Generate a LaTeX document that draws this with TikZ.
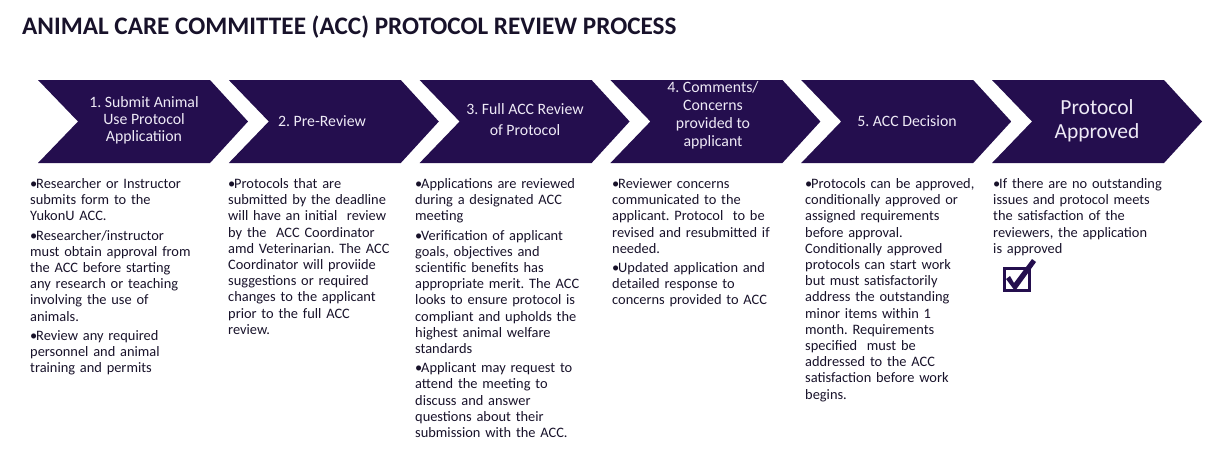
\documentclass[tikz,border=0pt]{standalone}
\usepackage{fontspec}
\setmainfont{Carlito}
\definecolor{chev}{RGB}{36,14,78}
\definecolor{bodytxt}{RGB}{24,18,42}
\definecolor{chevtxt}{RGB}{238,234,246}
\newcommand{\bfirst}{\noindent\hangindent=6pt\hangafter=1\makebox[6pt][l]{•}}
\newcommand{\bnext}{\par\vspace{3pt}\noindent\hangindent=6pt\hangafter=1\makebox[6pt][l]{•}}
\begin{document}
\frenchspacing
\begin{tikzpicture}[x=1pt,y=-1pt,
  chevshape/.style={fill=chev},
  chevlabel/.style={text=chevtxt,align=center,inner sep=0pt,font=\fontsize{15.8}{17}\selectfont},
  col/.style={text=bodytxt,anchor=north west,inner sep=0pt,text width=205pt,align=left,font=\fontsize{14.4}{16.2}\selectfont\frenchspacing},
]
\useasboundingbox (0,0) rectangle (1226,459);
% title
\node[anchor=base west,inner sep=0pt,text=bodytxt,font=\fontsize{25.2}{30}\selectfont\bfseries] (title) at (22,34) {ANIMAL CARE COMMITTEE (ACC) PROTOCOL REVIEW PROCESS};
% chevrons
\foreach \i in {0,...,5}{
  \pgfmathsetmacro\xo{38+190.8*\i}
  \fill[chevshape] (\xo,80) -- ++(172,0) -- ++(38,41.5) -- ++(-38,41.5) -- ++(-172,0) -- ++(40,-41.5) -- cycle;
}
\node[chevlabel] (s1) at (144,120) {1. Submit Animal\\Use Protocol\\Applicatiion};
\node[chevlabel] (s2) at (322,121.5) {2. Pre-Review};
\node[chevlabel,font=\fontsize{15.8}{21}\selectfont] (s3) at (525,120) {3. Full ACC Review\\of Protocol};
\node[chevlabel,font=\fontsize{15.8}{18}\selectfont] (s4) at (713,115.5) {4. Comments/\\Concerns\\provided to\\applicant};
\node[chevlabel] (s5) at (907,121.5) {5. ACC Decision};
\node[chevlabel,font=\fontsize{21.5}{24}\selectfont] (s6) at (1097,121) {Protocol\\Approved};
% columns
\node[col] (c1) at (30,177) {\bfirst\strut Researcher or Instructor\\submits form to the\\YukonU ACC.
\bnext Researcher/instructor\\must obtain approval from\\the ACC before starting\\any research or teaching\\involving the use of\\animals.
\bnext Review any required\\personnel and animal\\training and permits};
\node[col] (c2) at (228,177) {\bfirst\strut Protocols that are\\submitted by the deadline\\will have an initial\ \ review\\by the\ \ ACC Coordinator\\amd Veterinarian. The ACC\\Coordinator will proviide\\suggestions or required\\changes to the applicant\\prior to the full ACC\\review.};
\node[col] (c3) at (415,177) {\bfirst\strut Applications are reviewed\\during a designated ACC\\meeting
\bnext Verification of applicant\\goals, objectives and\\scientific benefits has\\appropriate merit. The ACC\\looks to ensure protocol is\\compliant and upholds the\\highest animal welfare\\standards
\bnext Applicant may request to\\attend the meeting to\\discuss and answer\\questions about their\\submission with the ACC.};
\node[col] (c4) at (612,177) {\bfirst\strut Reviewer concerns\\communicated to the\\applicant. Protocol\ \ to be\\revised and resubmitted if\\needed.
\bnext Updated application and\\detailed response to\\concerns provided to ACC};
\node[col] (c5) at (805,177) {\bfirst\strut Protocols can be approved,\\conditionally approved or\\assigned requirements\\before approval.\\Conditionally approved\\protocols can start work\\but must satisfactorily\\address the outstanding\\minor items within 1\\month. Requirements\\specified\ \ must be\\addressed to the ACC\\satisfaction before work\\begins.};
\node[col] (c6) at (993,177) {\bfirst\strut If there are no outstanding\\issues and protocol meets\\the satisfaction of the\\reviewers, the application\\is approved};
% checkbox
\node[draw=chev,line width=3pt,minimum width=25pt,minimum height=22pt,inner sep=0pt] (box) at (1016.5,279) {};
\fill[chev] (box.center) ++(-10.5,0) -- ++(4,-3) -- ++(4,7) -- ++(18,-24) -- ++(4,3) -- ++(-21,29) -- cycle;
\end{tikzpicture}
\end{document}
